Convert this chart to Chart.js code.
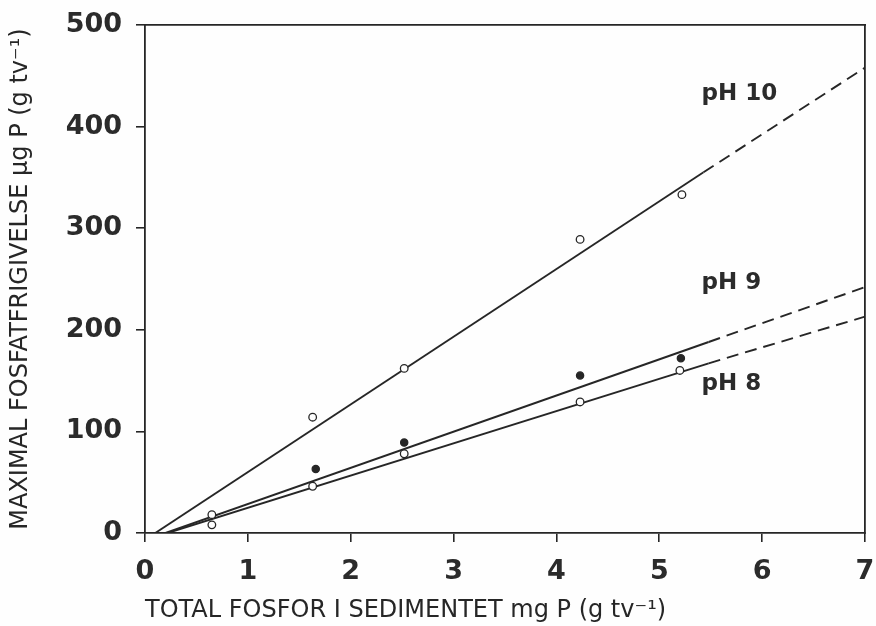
<!DOCTYPE html>
<html>
<head>
<meta charset="utf-8">
<script src="https://cdn.jsdelivr.net/npm/chart.js@4/dist/chart.umd.min.js"></script>
<style>
  html, body { margin: 0; padding: 0; background: #fefefe; }
  #wrap { width: 876px; height: 626px; }
</style>
</head>
<body>
<div id="wrap"><canvas id="c" width="876" height="626"></canvas></div>
<script>
// ---- data ----
const xTicks = [0, 1, 2, 3, 4, 5, 6, 7];
const yTicks = [0, 100, 200, 300, 400, 500];

// measured points
const xPH10 = [0.65, 1.63, 2.52, 4.23, 5.22];
const yPH10 = [18, 114, 162, 289, 333];
const xPH9  = [1.66, 2.52, 4.23, 5.21];
const yPH9  = [63, 89, 155, 172];
const xPH8  = [0.65, 1.63, 2.52, 4.23, 5.20];
const yPH8  = [8, 46, 78, 129, 160];

// fitted regression lines: start, end of solid part, end of dashed extrapolation
const fitX10 = [0.10, 5.43, 7];
const fitY10 = [0, 355, 458];
const fitX9  = [0.20, 5.48, 7];
const fitY9  = [0, 188, 242];
const fitX8  = [0.22, 5.48, 7];
const fitY8  = [0, 167, 213];

// curve labels
const curveNames = ['pH 10', 'pH 9', 'pH 8'];
const curveLabelX = [5.41, 5.41, 5.41];
const curveLabelY = [432, 246, 147];

const xTitle = 'TOTAL FOSFOR I SEDIMENTET mg P (g tv\u207B\u00B9)';
const yTitle = 'MAXIMAL FOSFATFRIGIVELSE \u00B5g P (g tv\u207B\u00B9)';

// ---- helpers ----
const ink = '#262626';
const pts = (xs, ys) => xs.map((x, i) => ({ x: x, y: ys[i] }));
const solidPart = (xs, ys) => pts(xs.slice(0, 2), ys.slice(0, 2));
const dashPart = (xs, ys) => pts(xs.slice(1, 3), ys.slice(1, 3));

function lineDs(data, dashed) {
  return {
    type: 'scatter', data: data, showLine: true, pointRadius: 0,
    borderColor: ink, borderWidth: 1.9, borderDash: dashed ? [12, 7] : [],
    fill: false, order: 2
  };
}
function pointDs(data, filled) {
  return {
    type: 'scatter', data: data, showLine: false,
    pointRadius: filled ? 3.6 : 3.8, pointStyle: 'circle',
    pointBackgroundColor: filled ? ink : '#fefefe',
    pointBorderColor: ink, pointBorderWidth: 1.3, order: 1
  };
}

const labelPlugin = {
  id: 'curveLabels',
  afterDatasetsDraw(chart) {
    const ctx = chart.ctx, xs = chart.scales.x, ys = chart.scales.y;
    ctx.save();
    ctx.fillStyle = '#2b2b2b';
    ctx.font = 'bold 23px "DejaVu Sans"';
    ctx.textAlign = 'left';
    ctx.textBaseline = 'middle';
    curveNames.forEach((n, i) => {
      ctx.fillText(n, xs.getPixelForValue(curveLabelX[i]), ys.getPixelForValue(curveLabelY[i]));
    });
    ctx.restore();
  }
};

const tickFont = { family: '"DejaVu Sans"', size: 27, weight: 'bold' };

new Chart(document.getElementById('c'), {
  type: 'scatter',
  data: {
    datasets: [
      lineDs(solidPart(fitX10, fitY10), false), lineDs(dashPart(fitX10, fitY10), true),
      lineDs(solidPart(fitX9, fitY9), false),  lineDs(dashPart(fitX9, fitY9), true),
      lineDs(solidPart(fitX8, fitY8), false),  lineDs(dashPart(fitX8, fitY8), true),
      pointDs(pts(xPH10, yPH10), false),
      pointDs(pts(xPH9, yPH9), true),
      pointDs(pts(xPH8, yPH8), false)
    ]
  },
  options: {
    responsive: false,
    animation: false,
    events: [],
    layout: { padding: { top: 25, right: 11, left: 0, bottom: 0 } },
    plugins: { legend: { display: false }, tooltip: { enabled: false } },
    scales: {
      x: {
        type: 'linear', position: 'bottom', min: 0, max: 7,
        afterBuildTicks: s => { s.ticks = xTicks.map(v => ({ value: v })); },
        afterFit: s => { s.height = 93; s.paddingLeft = 0; s.paddingRight = 0; },
        ticks: { font: tickFont, color: '#2b2b2b', padding: 14, maxRotation: 0 },
        grid: { drawOnChartArea: false, tickLength: 9, color: ink, lineWidth: 1.6 },
        border: { display: true, color: ink, width: 1.8 },
        title: { display: true, text: xTitle, color: ink, align: 'start',
                 font: { family: '"DejaVu Sans"', size: 24 }, padding: { top: 0, bottom: 1 } }
      },
      y: {
        type: 'linear', position: 'left', min: 0, max: 500,
        afterBuildTicks: s => { s.ticks = yTicks.map(v => ({ value: v })); },
        afterFit: s => { s.width = 145; s.paddingTop = 0; s.paddingBottom = 0; },
        ticks: { font: tickFont, color: '#2b2b2b', padding: 14 },
        grid: { drawOnChartArea: false, tickLength: 9, color: ink, lineWidth: 1.6 },
        border: { display: true, color: ink, width: 1.8 },
        title: { display: true, text: yTitle, color: ink,
                 font: { family: '"DejaVu Sans"', size: 24 }, padding: { top: 6, bottom: 0 } }
      },
      x2: {
        type: 'linear', position: 'top', min: 0, max: 7,
        afterFit: s => { s.height = 0; s.paddingLeft = 0; s.paddingRight = 0; },
        ticks: { display: false }, grid: { display: false },
        border: { display: true, color: ink, width: 1.8 }
      },
      y2: {
        type: 'linear', position: 'right', min: 0, max: 500,
        afterFit: s => { s.width = 0; s.paddingTop = 0; s.paddingBottom = 0; },
        ticks: { display: false }, grid: { display: false },
        border: { display: true, color: ink, width: 1.8 }
      }
    }
  },
  plugins: [labelPlugin]
});
</script>
</body>
</html>
